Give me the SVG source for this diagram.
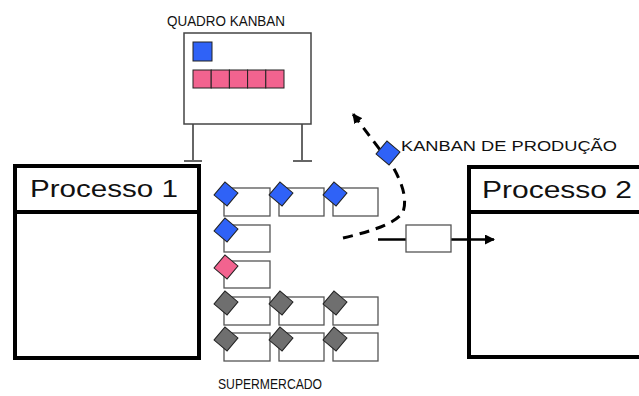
<svg xmlns="http://www.w3.org/2000/svg" width="639" height="396" viewBox="0 0 639 396">
  <defs>
    <marker id="arrow" viewBox="0 0 10 10" refX="9" refY="5" markerWidth="10" markerHeight="10" markerUnits="userSpaceOnUse" orient="auto">
      <path d="M0,0 L10,5 L0,10 Z" fill="#000"/>
    </marker>
    <rect id="card" x="-8.5" y="-8.5" width="17" height="17" stroke="#222" stroke-width="1"/>
  </defs>
  <style>
    .lbl { font-family: "Liberation Sans", Arial, sans-serif; fill: #111; }
    .proc { fill: #fff; stroke: #000; stroke-width: 4; }
    .slot { fill: #fff; stroke: #555; stroke-width: 1.3; }
    .blue { fill: #2f62f7; }
    .pink { fill: #f2638f; }
    .gray { fill: #6f6f6f; }
    .conn { fill: none; stroke: #000; stroke-width: 3; }
  </style>
  <rect width="639" height="396" fill="#fff"/>

  <!-- Kanban board -->
  <g id="quadro-kanban">
    <text class="lbl" x="167" y="26" font-size="14" textLength="118" lengthAdjust="spacingAndGlyphs">QUADRO KANBAN</text>
    <path d="M193,124 V161 M184,161 H202 M302,124 V161 M293,161 H312" stroke="#666" stroke-width="2" fill="none"/>
    <rect x="184" y="33" width="127" height="91" fill="#fff" stroke="#444" stroke-width="1.5"/>
    <rect x="193" y="42" width="19" height="19" class="blue" stroke="#222" stroke-width="1"/>
    <g class="pink" stroke="#222" stroke-width="1">
      <rect x="193" y="70" width="18.2" height="18"/>
      <rect x="211.2" y="70" width="18.2" height="18"/>
      <rect x="229.4" y="70" width="18.2" height="18"/>
      <rect x="247.6" y="70" width="18.2" height="18"/>
      <rect x="265.8" y="70" width="18.2" height="18"/>
    </g>
  </g>

  <!-- Process 1 -->
  <g id="processo-1">
    <rect class="proc" x="15" y="166" width="184" height="192"/>
    <line x1="15" y1="212" x2="199" y2="212" stroke="#000" stroke-width="4"/>
    <text class="lbl" x="30" y="197" font-size="23" textLength="148" lengthAdjust="spacingAndGlyphs" fill="#000">Processo 1</text>
  </g>

  <!-- Process 2 -->
  <g id="processo-2">
    <rect class="proc" x="469" y="167" width="180" height="190"/>
    <line x1="469" y1="212" x2="649" y2="212" stroke="#000" stroke-width="4"/>
    <text class="lbl" x="482" y="198" font-size="23" textLength="150" lengthAdjust="spacingAndGlyphs" fill="#000">Processo 2</text>
  </g>

  <!-- Supermarket: slots with cards -->
  <g id="supermercado">
    <rect class="slot" x="224" y="188" width="46" height="28"/>
    <rect class="slot" x="279" y="188" width="45" height="28"/>
    <rect class="slot" x="333" y="188" width="45" height="28"/>
    <rect class="slot" x="224" y="225" width="46" height="27"/>
    <rect class="slot" x="224" y="261" width="46" height="27"/>
    <rect class="slot" x="224" y="297" width="46" height="28"/>
    <rect class="slot" x="279" y="297" width="45" height="28"/>
    <rect class="slot" x="333" y="297" width="45" height="28"/>
    <rect class="slot" x="224" y="333" width="46" height="28"/>
    <rect class="slot" x="279" y="333" width="45" height="28"/>
    <rect class="slot" x="333" y="333" width="45" height="28"/>

    <use href="#card" class="blue" transform="translate(226,194) rotate(40)"/>
    <use href="#card" class="blue" transform="translate(281,194) rotate(40)"/>
    <use href="#card" class="blue" transform="translate(335,194) rotate(40)"/>
    <use href="#card" class="blue" transform="translate(226,230) rotate(40)"/>
    <use href="#card" class="pink" transform="translate(226,267) rotate(40)"/>
    <use href="#card" class="gray" transform="translate(226,303) rotate(40)"/>
    <use href="#card" class="gray" transform="translate(281,303) rotate(40)"/>
    <use href="#card" class="gray" transform="translate(335,303) rotate(40)"/>
    <use href="#card" class="gray" transform="translate(226,339) rotate(40)"/>
    <use href="#card" class="gray" transform="translate(281,339) rotate(40)"/>
    <use href="#card" class="gray" transform="translate(335,339) rotate(40)"/>

    <text class="lbl" x="218" y="389" font-size="14" textLength="104" lengthAdjust="spacingAndGlyphs">SUPERMERCADO</text>
  </g>

  <!-- Connectors -->
  <g id="connectors">
    <path class="conn" d="M343,238 Q395,226 403,212 Q409,195 393,167 L353,114" stroke-dasharray="10,7" marker-end="url(#arrow)"/>
    <path d="M378,239.5 H406 M451,239.5 H494" fill="none" stroke="#000" stroke-width="2.5" marker-end="url(#arrow)"/>
    <rect x="406" y="225" width="45" height="27" fill="#fff" stroke="#555" stroke-width="1.3"/>
  </g>

  <!-- Production kanban in transit -->
  <g id="kanban-producao">
    <use href="#card" class="blue" transform="translate(388,153) rotate(40)"/>
    <text class="lbl" x="401" y="151" font-size="15" textLength="216" lengthAdjust="spacingAndGlyphs">KANBAN DE PRODUÇÃO</text>
  </g>
</svg>
